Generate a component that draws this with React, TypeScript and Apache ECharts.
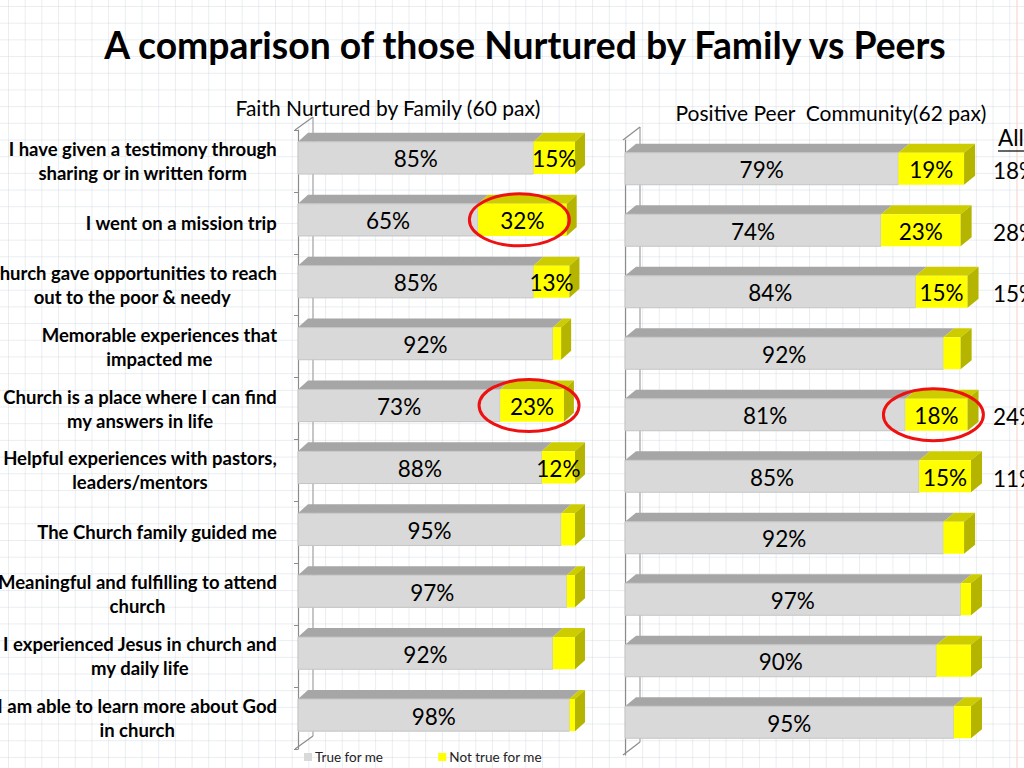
import React, { useEffect, useRef } from 'react';
import * as echarts from 'echarts';

const categories = [
  'I have given a testimony through\nsharing or in written form',
  'I went on a mission trip',
  'Church gave opportunities to reach\nout to the poor & needy',
  'Memorable experiences that\nimpacted me',
  'Church is a place where I can find\nmy answers in life',
  'Helpful experiences with pastors,\nleaders/mentors',
  'The Church family guided me',
  'Meaningful and fulfilling to attend\nchurch',
  'I experienced Jesus in church and\nmy daily life',
  'I am able to learn more about God\nin church',
];

const familyTrue = [85, 65, 85, 92, 73, 88, 95, 97, 92, 98];
const familyNot = [15, 32, 13, 3, 23, 12, 5, 3, 8, 2];
const peerTrue = [79, 74, 84, 92, 81, 85, 92, 97, 90, 95];
const peerNot = [19, 23, 15, 5, 18, 15, 6, 3, 10, 5];
const allNot: (number | null)[] = [18, 28, 15, null, 24, 11, null, null, null, null];
const familyCircled = [1, 4];
const peerCircled = [4];

const TITLE = 'A comparison of those Nurtured by Family vs Peers';
const FAMILY_TITLE = 'Faith Nurtured by Family (60 pax)';
const PEER_TITLE = 'Positive Peer  Community(62 pax)';
const LEGEND_TRUE = 'True for me';
const LEGEND_NOT = 'Not true for me';

const FONT = 'Lato, "Open Sans", sans-serif';
const GRAY_FRONT = '#d9d9d9';
const GRAY_TOP = '#a6a6a6';
const YEL_FRONT = '#ffff00';
const YEL_TOP = '#cccc00';
const YEL_SIDE = '#b5b500';

function barRenderer(front: string, top: string, side: string, dx: number, dy: number, yShift: number, minLabel: number, stroke: string | null) {
  return (params: any, api: any) => {
    const i = api.value(0);
    const s = api.value(1);
    const e = api.value(2);
    const last = api.value(3);
    const a = api.coord([s, i]);
    const b = api.coord([e, i]);
    const band = api.size([0, 1])[1];
    const h = band * 0.52;
    const yc = a[1] + yShift;
    const yt = yc - h / 2;
    const yb = yc + h / 2;
    const x0 = a[0];
    const x1 = b[0];
    const children: any[] = [
      {
        type: 'polygon',
        shape: { points: [[x0, yt], [x1, yt], [x1 + dx, yt - dy], [x0 + dx, yt - dy]] },
        style: { fill: top },
      },
      {
        type: 'rect',
        shape: { x: x0, y: yt, width: x1 - x0, height: h },
        style: stroke ? { fill: front, stroke, lineWidth: 1 } : { fill: front },
      },
    ];
    if (last) {
      children.push({
        type: 'polygon',
        shape: { points: [[x1, yt], [x1 + dx, yt - dy], [x1 + dx, yb - dy], [x1, yb]] },
        style: { fill: side },
      });
    }
    const v = Math.round(e - s);
    if (v >= minLabel) {
      children.push({
        type: 'text',
        style: {
          text: v + '%',
          x: (x0 + x1) / 2,
          y: yc + 1,
          align: 'center',
          verticalAlign: 'middle',
          textAlign: 'center',
          textVerticalAlign: 'middle',
          fontSize: 22.5,
          fontFamily: FONT,
          fill: '#000',
        },
      });
    }
    return { type: 'group', children };
  };
}

function circleRenderer(yShift: number) {
  return (params: any, api: any) => {
    const i = api.value(0);
    const a = api.coord([api.value(1), i]);
    const b = api.coord([api.value(2), i]);
    return {
      type: 'ellipse',
      shape: { cx: (a[0] + b[0]) / 2 - 3, cy: a[1] + yShift, rx: 50, ry: 26 },
      style: { fill: 'none', stroke: '#ee1111', lineWidth: 3 },
    };
  };
}

function buildSeries(trueVals: number[], notVals: number[], idx: number, dx: number, dy: number, yShift: number, circled: number[]) {
  const grayData = trueVals.map((v, i) => [i, 0, v, notVals[i] > 0 ? 0 : 1]);
  const yelData = trueVals.map((v, i) => [i, v, v + notVals[i], 1]);
  const circData = circled.map((i) => [i, trueVals[i], trueVals[i] + notVals[i]]);
  return [
    {
      type: 'custom',
      name: LEGEND_TRUE,
      xAxisIndex: idx,
      yAxisIndex: idx,
      itemStyle: { color: GRAY_FRONT },
      encode: { x: [1, 2], y: 0 },
      renderItem: barRenderer(GRAY_FRONT, GRAY_TOP, '#8f8f8f', dx, dy, yShift, 0, '#c4c4c4'),
      data: grayData,
      z: 2,
    },
    {
      type: 'custom',
      name: LEGEND_NOT,
      xAxisIndex: idx,
      yAxisIndex: idx,
      itemStyle: { color: YEL_FRONT },
      encode: { x: [1, 2], y: 0 },
      renderItem: barRenderer(YEL_FRONT, YEL_TOP, YEL_SIDE, dx, dy, yShift, 11, null),
      data: yelData,
      z: 3,
    },
    {
      type: 'custom',
      xAxisIndex: idx,
      yAxisIndex: idx,
      encode: { x: [1, 2], y: 0 },
      renderItem: circleRenderer(yShift),
      data: circData,
      z: 10,
    },
  ];
}

export default function App() {
  const ref = useRef<HTMLDivElement>(null);
  useEffect(() => {
    if (!ref.current) return;
    const chart = echarts.init(ref.current, undefined, { renderer: 'svg' });
    const line = (x1: number, y1: number, x2: number, y2: number, color: string) => ({
      type: 'line',
      z: 0,
      shape: { x1, y1, x2, y2 },
      style: { stroke: color, lineWidth: 1.2 },
    });
    const allData = allNot
      .map((v, i) => (v == null ? null : [i, v]))
      .filter((d) => d != null);
    const option: any = {
      animation: false,
      backgroundColor: 'transparent',
      title: [
        {
          text: TITLE,
          left: 520,
          top: 21,
          textAlign: 'center',
          textStyle: { fontFamily: FONT, fontWeight: 'bold', fontSize: 37.3, color: '#000' },
        },
        {
          text: FAMILY_TITLE,
          left: 383,
          top: 92,
          textAlign: 'center',
          textStyle: { fontFamily: FONT, fontWeight: 'normal', fontSize: 21, color: '#000' },
        },
        {
          text: PEER_TITLE,
          left: 826,
          top: 97,
          textAlign: 'center',
          textStyle: { fontFamily: FONT, fontWeight: 'normal', fontSize: 21, color: '#000' },
        },
      ],
      legend: {
        left: 299,
        top: 745,
        itemWidth: 8,
        itemHeight: 8,
        itemGap: 55,
        icon: 'rect',
        selectedMode: false,
        textStyle: { fontFamily: FONT, fontSize: 13.5, color: '#222', padding: [0, 0, 0, -2] },
        data: [
          { name: LEGEND_TRUE, itemStyle: { color: GRAY_FRONT } },
          { name: LEGEND_NOT, itemStyle: { color: YEL_FRONT } },
        ],
      },
      grid: [
        { left: 298, top: 130, width: 277, height: 619, outerBoundsMode: 'none', containLabel: false },
        { left: 625, top: 140, width: 346, height: 615, outerBoundsMode: 'none', containLabel: false },
      ],
      xAxis: [
        { type: 'value', gridIndex: 0, min: 0, max: 100, show: false },
        { type: 'value', gridIndex: 1, min: 0, max: 100, show: false },
      ],
      yAxis: [
        {
          type: 'category',
          gridIndex: 0,
          data: categories,
          inverse: true,
          offset: 3,
          axisLine: { show: true, lineStyle: { color: '#8c8c8c', width: 1.2 } },
          axisTick: { show: true, length: 4, lineStyle: { color: '#8c8c8c' } },
          axisLabel: {
            margin: 18,
            formatter: (v: string) => v.split('\n').map((l) => `{a|${l}}`).join('\n'),
            rich: {
              a: {
                align: 'center',
                fontFamily: FONT,
                fontWeight: 'bold',
                fontSize: 18.5,
                lineHeight: 24,
                color: '#000',
              },
            },
          },
        },
        {
          type: 'category',
          gridIndex: 1,
          data: categories,
          inverse: true,
          offset: 2,
          axisLine: { show: true, lineStyle: { color: '#8c8c8c', width: 1.2 } },
          axisTick: { show: false },
          axisLabel: { show: false },
        },
      ],
      graphic: [
        line(313, 117, 313, 736, '#a0a0a0'),
        line(295, 130, 313, 117, '#8c8c8c'),
        line(295, 749, 313, 736, '#8c8c8c'),
        line(640, 127, 640, 742, '#a0a0a0'),
        line(623, 140, 640, 127, '#8c8c8c'),
        line(623, 755, 640, 742, '#8c8c8c'),
        line(1017, 0, 1017, 768, '#f6d8cf'),
        {
          type: 'text',
          z: 5,
          style: { text: 'All', x: 998, y: 126, fontSize: 22.5, fontFamily: FONT, fill: '#000' },
        },
        line(998, 151, 1024, 151, '#000'),
      ],
      series: [
        ...buildSeries(familyTrue, familyNot, 0, 10, 9, -3, familyCircled),
        ...buildSeries(peerTrue, peerNot, 1, 11, 9, -2, peerCircled),
        {
          type: 'custom',
          xAxisIndex: 1,
          yAxisIndex: 1,
          encode: { x: 1, y: 0 },
          data: allData,
          renderItem: (params: any, api: any) => {
            const p = api.coord([100, api.value(0)]);
            return {
              type: 'text',
              style: {
                text: api.value(1) + '%',
                x: p[0] + 22,
                y: p[1],
                align: 'left',
                verticalAlign: 'middle',
                textAlign: 'left',
                textVerticalAlign: 'middle',
                fontSize: 22.5,
                fontFamily: FONT,
                fill: '#000',
              },
            };
          },
          z: 5,
        },
      ],
    };
    chart.setOption(option);
    return () => chart.dispose();
  }, []);
  const bg: React.CSSProperties = {
    position: 'fixed',
    left: 0,
    top: 0,
    width: 1024,
    height: 768,
    backgroundColor: '#ffffff',
    backgroundImage:
      'linear-gradient(to right, rgba(200,212,222,0.4) 1px, transparent 1px), linear-gradient(to bottom, rgba(200,212,222,0.4) 1px, transparent 1px)',
    backgroundSize: '16.7px 16.7px',
    backgroundPosition: '8px 6px',
  };
  return (
    <div style={bg}>
      <div ref={ref} style={{ width: 1024, height: 768 }} />
    </div>
  );
}
